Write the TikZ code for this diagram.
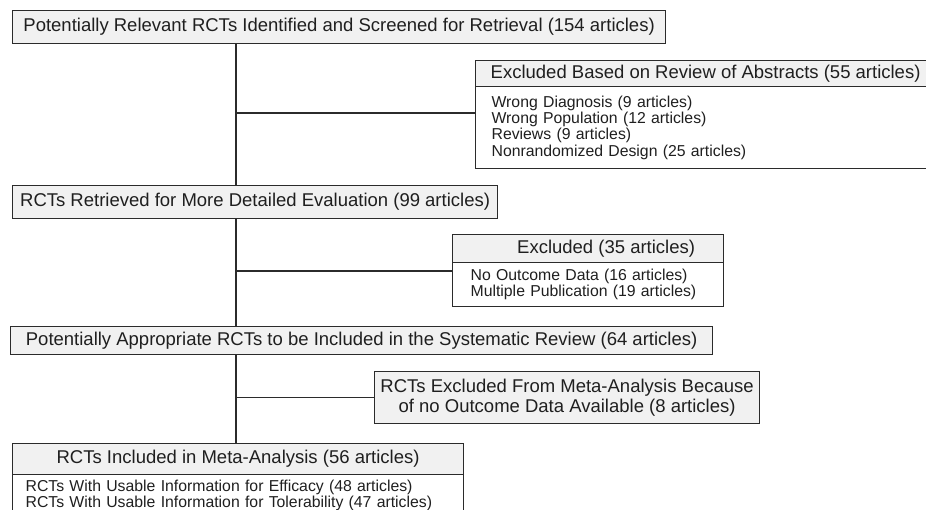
\documentclass[tikz,border=0pt]{standalone}
\usepackage{fontspec}
\setmainfont{Liberation Sans}
\definecolor{boxline}{HTML}{2B2B2B}
\definecolor{boxfill}{HTML}{F1F1F1}
\tikzset{
  head/.style={draw=boxline, fill=boxfill, line width=1.2pt, anchor=north west,
    inner sep=0pt, text=black!88, font=\fontsize{18.5}{20.5}\selectfont},
  list/.style={draw=boxline, line width=1.2pt, anchor=north west, inner xsep=16pt,
    inner ysep=0pt, align=left, text=black!88, font=\fontsize{15.8}{16.4}\selectfont},
}
\begin{document}
\begin{tikzpicture}[x=1pt,y=-1pt]
      \useasboundingbox (0,0) rectangle (926,510);
      \node[head, minimum width=653, minimum height=33] (screened) at (12,10)
        {Potentially Relevant RCTs Identified and Screened for Retrieval (154 articles)};
      \node[head, minimum width=460, minimum height=26] (abstracts) at (475,60)
        {Excluded Based on Review of Abstracts (55 articles)};
      \node[list, text width=428, minimum height=82] (abstractsl) at (475,86)
        {Wrong Diagnosis (9 articles)\\Wrong Population (12 articles)\\Reviews (9 articles)\\Nonrandomized Design (25 articles)};
      \node[head, minimum width=485, minimum height=33] (retrieved) at (12,185)
        {RCTs Retrieved for More Detailed Evaluation (99 articles)};
      \node[head, minimum width=271, minimum height=28] (excluded) at (452,234)
        {\hspace*{36pt}Excluded (35 articles)};
      \node[list, inner xsep=18pt, text width=235, minimum height=44] (excludedl) at (452,262)
        {No Outcome Data (16 articles)\\Multiple Publication (19 articles)};
      \node[head, minimum width=702, minimum height=28] (appropriate) at (10,326)
        {Potentially Appropriate RCTs to be Included in the Systematic Review (64 articles)};
      \node[head, align=center, minimum width=385, minimum height=52] (nodata) at (374,371)
        {RCTs Excluded From Meta-Analysis Because\\of no Outcome Data Available (8 articles)};
      \node[head, minimum width=451, minimum height=31] (included) at (12,443)
        {RCTs Included in Meta-Analysis (56 articles)};
      \node[list, inner xsep=13pt, text width=425, minimum height=42,
        font=\fontsize{15.8}{15.6}\selectfont] (includedl) at (12,474)
        {RCTs With Usable Information for Efficacy (48 articles)\\RCTs With Usable Information for Tolerability (47 articles)};
      \coordinate (trunk) at (236,0);
      \coordinate (b1) at (236,113);
      \coordinate (b2) at (236,271);
      \begin{scope}[draw=boxline, line width=1.2pt]
        \draw (trunk |- screened.south) to (trunk |- retrieved.north);
        \draw (trunk |- retrieved.south) to (trunk |- appropriate.north);
        \draw (trunk |- appropriate.south) to (trunk |- included.north);
        \draw (b1) to (b1 -| abstractsl.west);
        \draw (b2) to (b2 -| excludedl.west);
        \draw (trunk |- nodata.west) to (nodata.west);
      \end{scope}
    \end{tikzpicture}
\end{document}
